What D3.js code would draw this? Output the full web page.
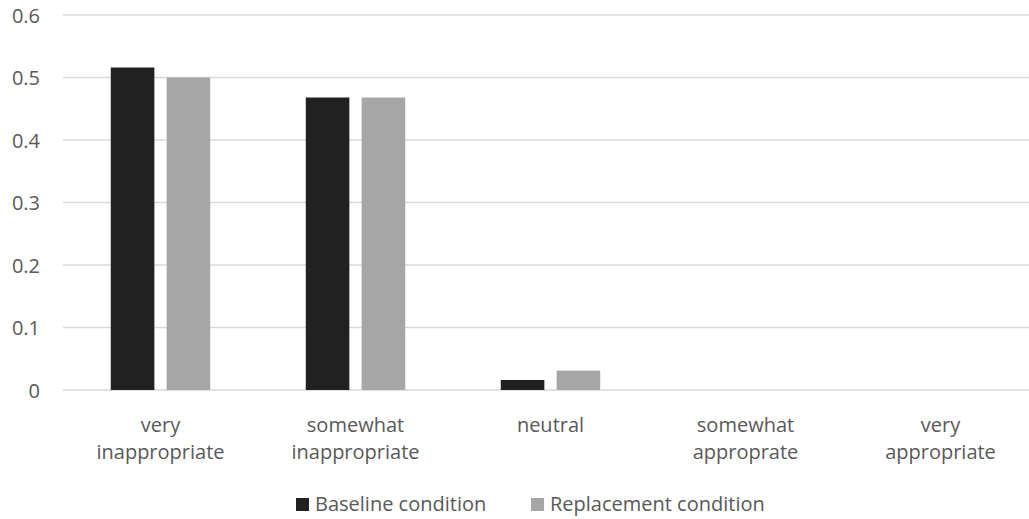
<!DOCTYPE html>
<html>
<head>
<meta charset="utf-8">
<script src="https://cdn.jsdelivr.net/npm/d3@7"></script>
<style>
  html, body { margin: 0; padding: 0; background: #fff; }
  svg { display: block; }
  text { font-family: "Open Sans", sans-serif; fill: #595959; }
</style>
</head>
<body>
<svg id="chart" width="1029" height="519"></svg>
<script>
const categories = ["very inappropriate", "somewhat inappropriate", "neutral", "somewhat approprate", "very appropriate"];
const categoryLines = [["very", "inappropriate"], ["somewhat", "inappropriate"], ["neutral"], ["somewhat", "approprate"], ["very", "appropriate"]];
const seriesNames = ["Baseline condition", "Replacement condition"];
const baselineValues = [0.516, 0.468, 0.016, 0, 0];
const replacementValues = [0.5, 0.468, 0.031, 0, 0];
const yTicks = [0, 0.1, 0.2, 0.3, 0.4, 0.5, 0.6];
const yTickLabels = ["0", "0.1", "0.2", "0.3", "0.4", "0.5", "0.6"];
const colors = ["#212121", "#a6a6a6"];

const svg = d3.select("#chart");
const plot = { left: 63, right: 1038, top: 15, bottom: 390 };

const x0 = d3.scaleBand().domain(categories).range([plot.left, plot.right]).paddingInner(0.49).paddingOuter(0.245);
const x1 = d3.scaleBand().domain(seriesNames).range([0, x0.bandwidth()]).paddingInner(0.22);
const y = d3.scaleLinear().domain([0, 0.6]).range([plot.bottom, plot.top]);

// gridlines
svg.append("g").selectAll("line").data(yTicks).join("line")
  .attr("x1", plot.left).attr("x2", plot.right)
  .attr("y1", d => y(d)).attr("y2", d => y(d))
  .attr("stroke", "#d9d9d9").attr("stroke-width", 1.5);

// y axis labels
const yAxis = d3.axisLeft(y).tickValues(yTicks).tickFormat((d, i) => yTickLabels[i]).tickSize(0).tickPadding(0);
const yg = svg.append("g").attr("transform", "translate(40,0)").call(yAxis);
yg.select(".domain").remove();
yg.selectAll("text").style("font-size", "20px").attr("fill", "#595959").attr("dy", "0.36em");

// bars
const data = categories.map((c, i) => ({ cat: c, vals: [baselineValues[i], replacementValues[i]] }));
const groups = svg.append("g").selectAll("g").data(data).join("g")
  .attr("transform", d => `translate(${x0(d.cat)},0)`);
groups.selectAll("rect").data(d => d.vals.map((v, k) => ({ name: seriesNames[k], v, k })))
  .join("rect")
  .attr("x", d => x1(d.name))
  .attr("width", x1.bandwidth())
  .attr("y", d => y(d.v))
  .attr("height", d => y(0) - y(d.v))
  .attr("fill", d => colors[d.k]);

// x axis category labels
const xg = svg.append("g");
categories.forEach((c, i) => {
  const cx = x0(c) + x0.bandwidth() / 2;
  const t = xg.append("text").attr("text-anchor", "middle").style("font-size", "20px");
  categoryLines[i].forEach((line, j) => {
    t.append("tspan").attr("x", cx).attr("y", 432 + j * 27).text(line);
  });
});

// legend
const legendItems = [{ name: seriesNames[0], x: 296 }, { name: seriesNames[1], x: 531 }];
const lg = svg.append("g");
legendItems.forEach((item, k) => {
  lg.append("rect").attr("x", item.x).attr("y", 498).attr("width", 13).attr("height", 13).attr("fill", colors[k]);
  lg.append("text").attr("x", item.x + 19).attr("y", 511).style("font-size", "20px").text(item.name);
});
</script>
</body>
</html>
